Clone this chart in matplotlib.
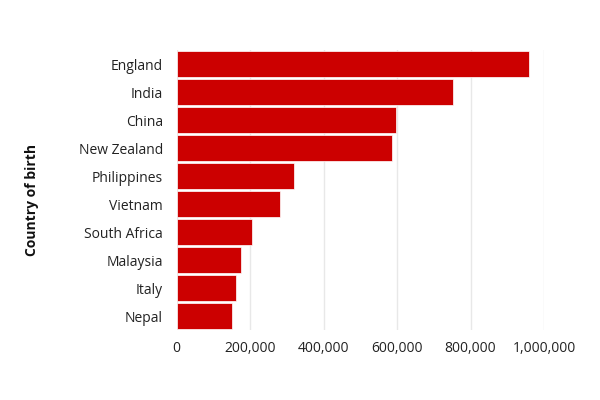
import matplotlib
matplotlib.use("Agg")
import matplotlib.pyplot as plt
from matplotlib.ticker import FuncFormatter

countries = ["England", "India", "China", "New Zealand", "Philippines",
             "Vietnam", "South Africa", "Malaysia", "Italy", "Nepal"]
people = [960000, 752000, 596000, 585000, 319000,
          280000, 205000, 175000, 160500, 150500]

plt.rcParams['font.family'] = ['Open Sans', 'DejaVu Sans']

fig = plt.figure(figsize=(6, 4), dpi=100)
ax = fig.add_axes([0.2945, 0.175, 0.6122, 0.70])

pos = list(range(len(countries)))[::-1]
ax.barh(pos, people, height=0.9, color='#cc0000', edgecolor='white', linewidth=0.5, zorder=2)

ax.set_xlim(0, 1000000)
ax.set_ylim(-0.5, len(countries) - 0.5)
ax.set_xticks([0, 200000, 400000, 600000, 800000, 1000000])
ax.xaxis.set_major_formatter(FuncFormatter(lambda v, p: f"{int(v):,}"))
ax.set_yticks(pos)
ax.set_yticklabels(countries)
ax.tick_params(axis='both', length=0, labelsize=10, colors='#222222')
ax.tick_params(axis='x', pad=8)
ax.tick_params(axis='y', pad=10)

ax.grid(axis='x', color='#e8e8e8', linewidth=1, zorder=0)
ax.set_axisbelow(True)
for s in ax.spines.values():
    s.set_visible(False)

fig.text(0.053, 0.50, "Country of birth", rotation=90, ha='center', va='center',
         fontsize=10, fontweight='bold', color='#111111')

fig.savefig("out.png", dpi=100, facecolor='white')
